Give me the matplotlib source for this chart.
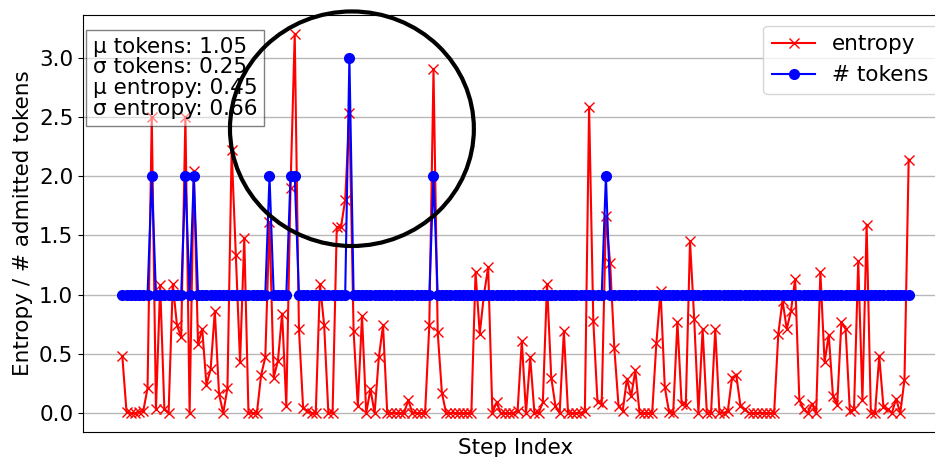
import numpy as np
import matplotlib
matplotlib.use("Agg")
import matplotlib.pyplot as plt
from matplotlib.patches import Ellipse

# entropy per step
entropy = [
    0.48, 0.01, 0.0, 0.0, 0.01, 0.02, 0.21, 2.5, 0.03, 1.08,
    0.03, 0.0, 1.09, 0.74, 0.64, 2.5, 0.0, 2.04, 0.58, 0.71,
    0.24, 0.37, 0.86, 0.16, 0.0, 0.21, 2.22, 1.33, 0.43, 1.48,
    0.0, 0.0, 0.0, 0.32, 0.47, 1.61, 0.30, 0.44, 0.84, 0.06,
    1.90, 3.2, 0.71, 0.04, 0.02, 0.0, 0.0, 1.09, 0.74, 0.0,
    0.0, 1.57, 1.57, 1.80, 2.53, 0.69, 0.06, 0.82, 0.0, 0.2,
    0.0, 0.47, 0.74, 0.0, 0.0, 0.0, 0.0, 0.0, 0.11, 0.0,
    0.0, 0.0, 0.0, 0.74, 2.9, 0.68, 0.17, 0.0, 0.0, 0.0,
    0.0, 0.0, 0.0, 0.0, 1.19, 0.67, 1.0, 1.23, 0.0, 0.09,
    0.0, 0.0, 0.0, 0.0, 0.02, 0.61, 0.0, 0.47, 0.0, 0.0,
    0.09, 1.09, 0.30, 0.06, 0.0, 0.69, 0.0, 0.0, 0.0, 0.0,
    0.02, 2.58, 0.78, 0.09, 0.08, 1.66, 1.27, 0.55, 0.06, 0.02,
    0.29, 0.14, 0.36, 0.0, 0.0, 0.0, 0.0, 0.59, 1.03, 0.22,
    0.01, 0.0, 0.77, 0.08, 0.07, 1.45, 0.79, 0.0, 0.71, 0.0,
    0.0, 0.71, 0.0, 0.0, 0.02, 0.30, 0.32, 0.06, 0.03, 0.0,
    0.0, 0.0, 0.0, 0.0, 0.0, 0.0, 0.67, 0.95, 0.71, 0.86,
    1.13, 0.11, 0.03, 0.0, 0.08, 0.0, 1.19, 0.43, 0.66, 0.14,
    0.07, 0.77, 0.71, 0.02, 0.03, 1.28, 0.11, 1.59, 0.0, 0.0,
    0.48, 0.05, 0.03, 0.0, 0.12, 0.0, 0.28, 2.14,
]

# admitted tokens per step: 1 everywhere except these steps
token_spikes = {7: 2, 15: 2, 17: 2, 35: 2, 40: 2, 41: 2, 54: 3, 74: 2, 115: 2}
tokens = [token_spikes.get(i, 1) for i in range(len(entropy))]

stats_text = "μ tokens: 1.05\nσ tokens: 0.25\nμ entropy: 0.45\nσ entropy: 0.66"

fs = 15.5
plt.rcParams['font.size'] = fs

fig = plt.figure(figsize=(9.35, 4.57), dpi=100)
ax = fig.add_axes([83 / 935, 1 - 432 / 457, 865 / 935, 417 / 457])

steps = np.arange(len(entropy))
ax.plot(steps, entropy, color='red', marker='x', markersize=7, label='entropy')
ax.plot(steps, tokens, color='blue', marker='o', markersize=7, label='# tokens')

# freeze the autoscaled limits before the ring is added
ax.set_xlim(ax.get_xlim())
ax.set_ylim(ax.get_ylim())

ax.grid(axis='y', color='#b8b8b8', linewidth=1.0)
ax.set_axisbelow(True)
ax.set_xticks([])
ax.set_xlabel('Step Index', fontsize=fs)
ax.set_ylabel('Entropy / # admitted tokens', fontsize=fs)
ax.tick_params(axis='y', labelsize=fs)

ax.legend(loc='upper right', fontsize=fs)

ax.text(0.011, 0.948, stats_text, transform=ax.transAxes, va='top', ha='left',
        fontsize=fs, linespacing=1.05,
        bbox=dict(boxstyle='square,pad=0.3', facecolor='white', alpha=0.5))

# circle around the largest token step
peak = int(np.argmax(tokens))
ring = Ellipse((peak + 0.6, 2.4), width=58, height=1.98, fill=False,
               edgecolor='black', linewidth=3, clip_on=False, zorder=5)
ax.add_patch(ring)

fig.savefig('out.png', dpi=100)
